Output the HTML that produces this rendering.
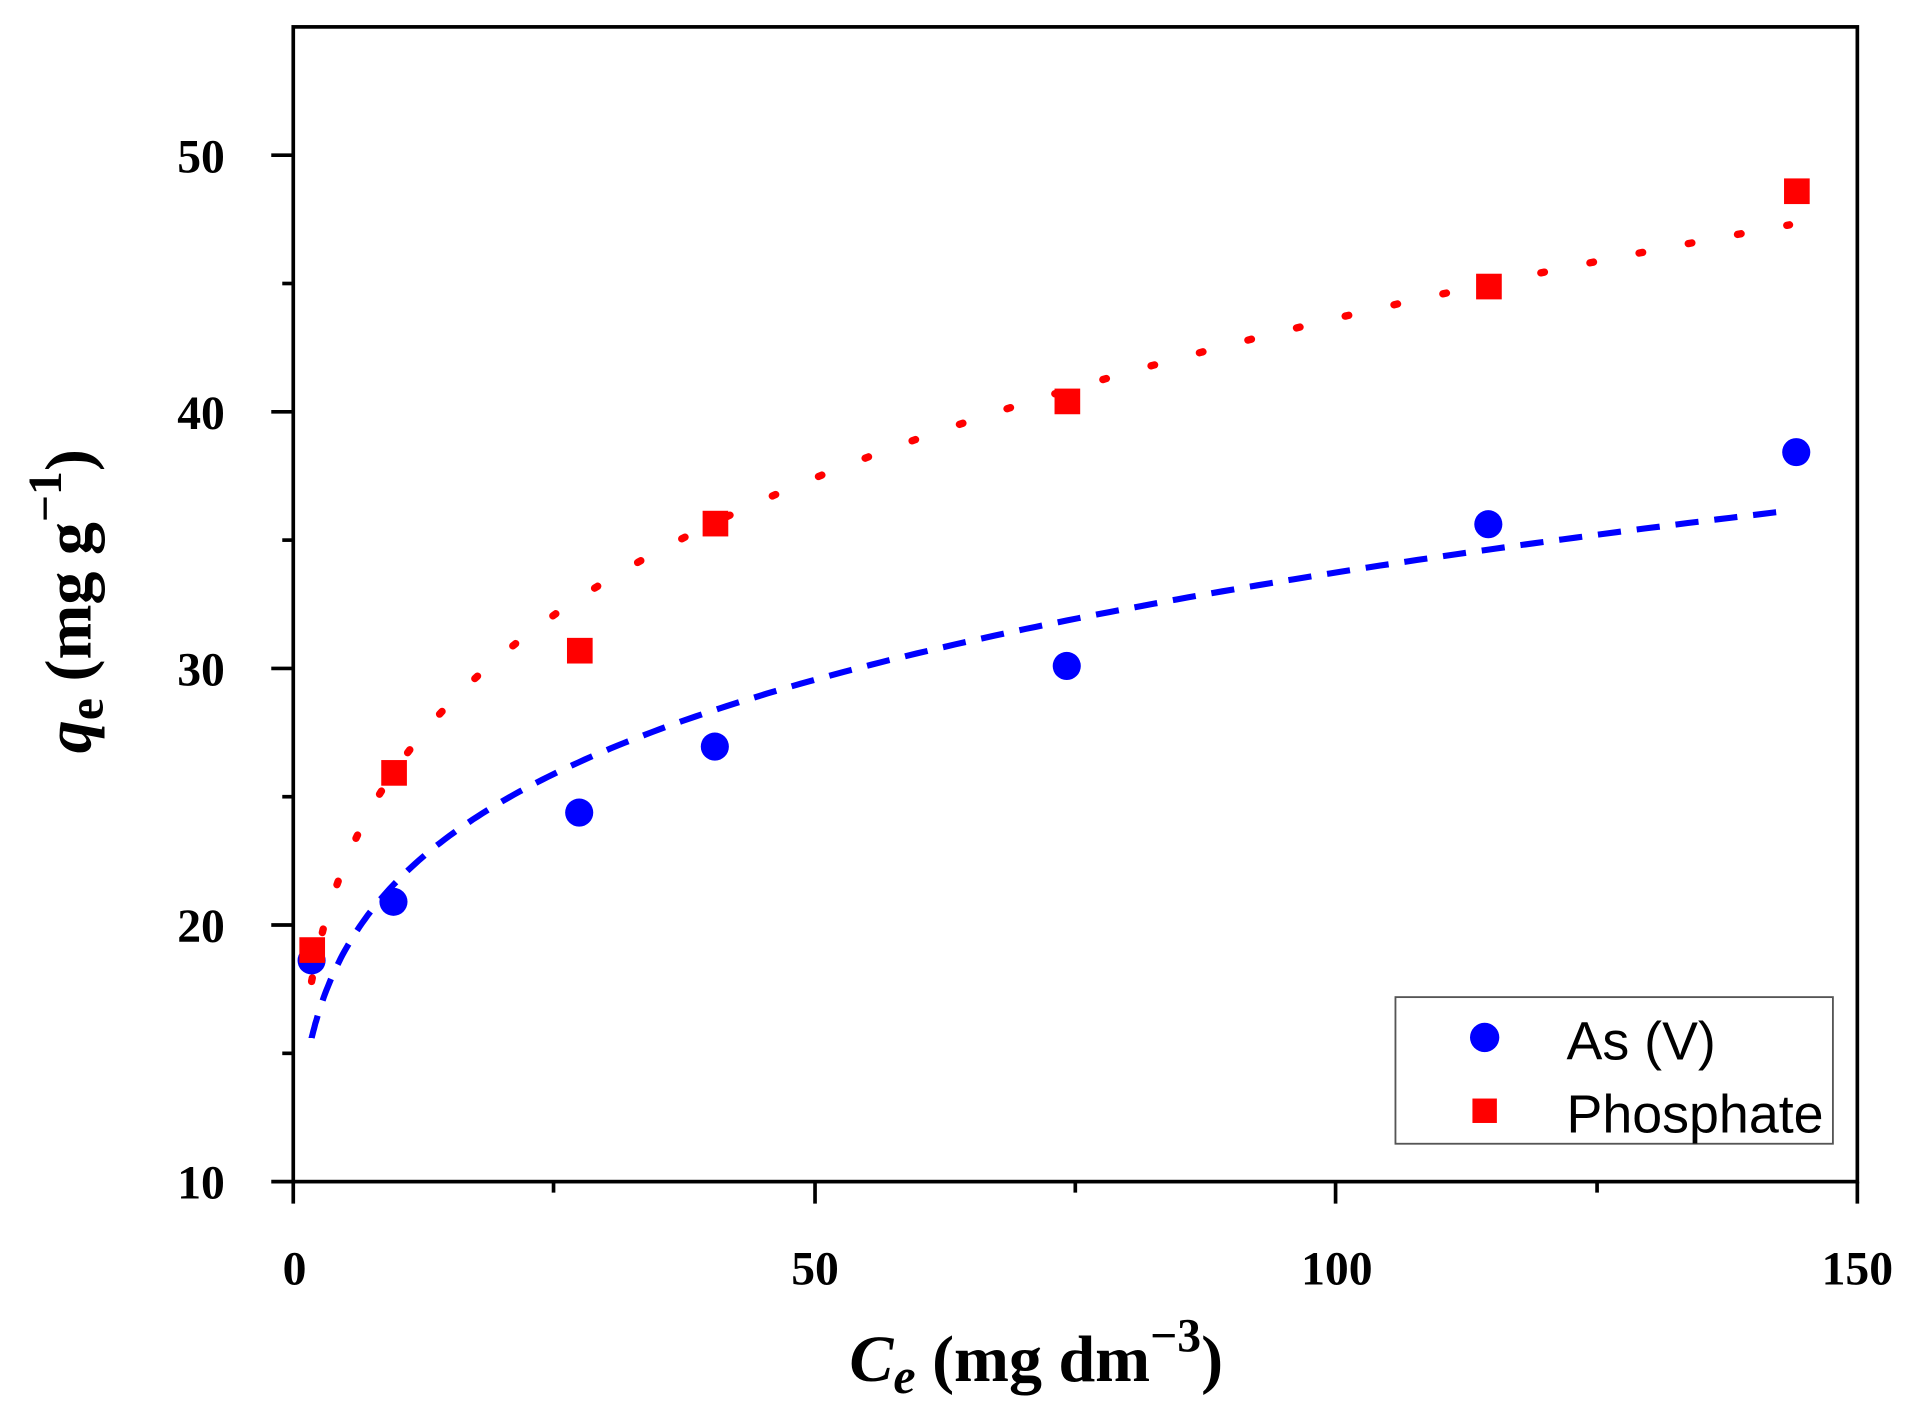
<!DOCTYPE html>
<html><head><meta charset="utf-8"><style>
html,body{margin:0;padding:0;background:#fff;}
svg{display:block;}
.t{font-family:"Liberation Serif",serif;font-weight:bold;font-size:39px;fill:#000;}
</style></head><body>
<svg width="1916" height="1427" viewBox="0 0 1568 1167.8" xmlns="http://www.w3.org/2000/svg">
<rect width="1568" height="1168" fill="#fff"/>
<g stroke="#000" stroke-width="3" fill="none">
<rect x="240" y="22" width="1280" height="945"/>
<line x1="222" y1="967" x2="240" y2="967"/>
<line x1="222" y1="757" x2="240" y2="757"/>
<line x1="222" y1="547" x2="240" y2="547"/>
<line x1="222" y1="337" x2="240" y2="337"/>
<line x1="222" y1="127" x2="240" y2="127"/>
<line x1="231" y1="862" x2="240" y2="862"/>
<line x1="231" y1="652" x2="240" y2="652"/>
<line x1="231" y1="442" x2="240" y2="442"/>
<line x1="231" y1="232" x2="240" y2="232"/>
<line x1="240" y1="967" x2="240" y2="985"/>
<line x1="667" y1="967" x2="667" y2="985"/>
<line x1="1093" y1="967" x2="1093" y2="985"/>
<line x1="1520" y1="967" x2="1520" y2="985"/>
<line x1="453" y1="967" x2="453" y2="976"/>
<line x1="880" y1="967" x2="880" y2="976"/>
<line x1="1307" y1="967" x2="1307" y2="976"/>
</g>
<g class="t" text-anchor="end">
<text x="184" y="981">10</text><text x="184" y="771">20</text><text x="184" y="561">30</text><text x="184" y="351">40</text><text x="184" y="141">50</text>
</g>
<g class="t" text-anchor="middle">
<text x="241" y="1051">0</text><text x="667" y="1051">50</text><text x="1094" y="1051">100</text><text x="1520" y="1051">150</text>
</g>
<text x="848" y="1130" text-anchor="middle" font-family="Liberation Serif,serif" font-weight="bold" font-size="54"><tspan font-style="italic">C</tspan><tspan font-style="italic" font-size="41" dy="10">e</tspan><tspan dy="-10"> (mg dm</tspan><tspan font-size="39" dy="-24">−3</tspan><tspan dy="24">)</tspan></text>
<text transform="translate(74,492) rotate(-90)" text-anchor="middle" font-family="Liberation Serif,serif" font-weight="bold" font-size="54"><tspan font-style="italic">q</tspan><tspan font-size="41" dy="10">e</tspan><tspan dy="-10"> (mg g</tspan><tspan font-size="39" dy="-24">−1</tspan><tspan dy="24">)</tspan></text>
<path id="pb" fill="none" stroke="#0000ff" stroke-width="5" stroke-dasharray="19 13"/>
<path id="pr" fill="none" stroke="#ff0000" stroke-width="6" stroke-linecap="round" stroke-dasharray="3 38"/>
<g fill="#0000ff">
<circle cx="255" cy="786" r="11.5"/><circle cx="322" cy="738" r="11.5"/><circle cx="474" cy="665" r="11.5"/><circle cx="585" cy="611" r="11.5"/><circle cx="873" cy="545" r="11.5"/><circle cx="1218" cy="429" r="11.5"/><circle cx="1470" cy="370" r="11.5"/>
</g>
<g fill="#ff0000">
<rect x="245" y="767" width="21" height="21"/><rect x="312" y="622" width="21" height="21"/><rect x="464" y="522" width="21" height="21"/><rect x="575" y="418" width="21" height="21"/><rect x="863" y="318" width="21" height="21"/><rect x="1208" y="224" width="21" height="21"/><rect x="1460" y="146" width="21" height="21"/>
</g>
<rect x="1142" y="816" width="358" height="120" fill="#fff" stroke="#555" stroke-width="1.5"/>
<circle cx="1215" cy="849" r="12" fill="#0000ff"/>
<rect x="1205" y="899" width="20" height="20" fill="#ff0000"/>
<g font-family="Liberation Sans,sans-serif" font-size="44" fill="#000">
<text x="1282" y="867">As (V)</text><text x="1282" y="927">Phosphate</text>
</g>
</svg>
<script>
function mk(K,n){var d="";for(var i=0;i<=200;i++){var c=1.76+(143.5-1.76)*Math.pow(i/200,2);var q=K*Math.pow(c,n);var x=240+c*1280/150;var y=967-(q-10)*21;d+=(i?"L":"M")+x.toFixed(1)+" "+y.toFixed(1);}return d;}
document.getElementById("pb").setAttribute("d",mk(14.0,0.191));
document.getElementById("pr").setAttribute("d",mk(15.7,0.222));
</script>
</body></html>
